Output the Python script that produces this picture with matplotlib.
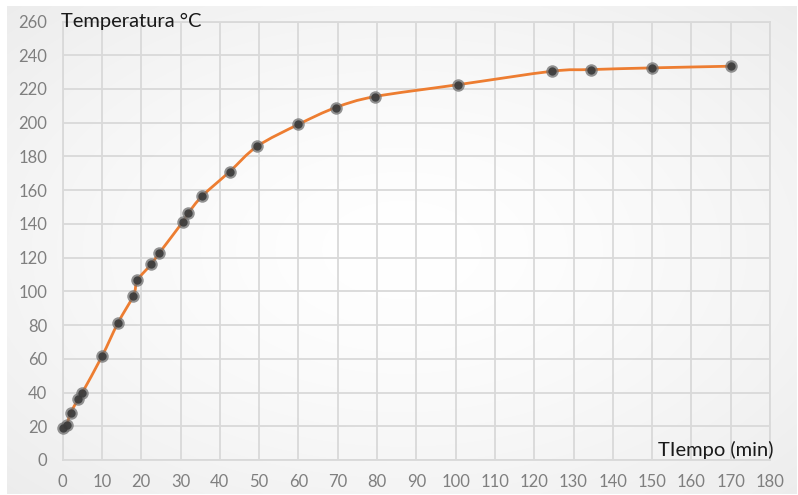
import numpy as np
import matplotlib
matplotlib.use("Agg")
import matplotlib.pyplot as plt
from matplotlib.path import Path
from matplotlib.patches import PathPatch

# Heating curve: time (min) vs temperature (°C)
tiempo = [0, 1, 2, 4, 5, 10, 14, 18, 19, 22.5, 24.5, 30.5, 32, 35.5,
          42.5, 49.5, 60, 69.5, 79.5, 100.5, 124.5, 134.5, 150, 170]
temperatura = [19, 20.5, 28, 36, 40, 61.5, 81, 97.5, 106.5, 116, 122.5,
               141, 146.5, 156.5, 171, 186, 199, 209, 215.5, 222.5,
               230.5, 231.5, 232.5, 233.5]

x_ticks = list(range(0, 181, 10))
y_ticks = list(range(0, 261, 20))
x_label = "TIempo (min)"
y_label = "Temperatura °C"

FONT = ["Lato", "DejaVu Sans"]
plt.rcParams["font.family"] = FONT

W, H = 798, 495
fig = plt.figure(figsize=(W / 100, H / 100), dpi=100)
fig.patch.set_facecolor("white")

# soft radial background of the chart area
bg = fig.add_axes([7 / W, 1 / H, 790 / W, 488 / H], zorder=-5)
gx, gy = np.meshgrid(np.linspace(-1, 1, 400), np.linspace(-1, 1, 250))
r = np.clip(np.sqrt((gx * 0.85) ** 2 + (gy * 0.85) ** 2), 0, 1.3)
shade = 1.0 - 0.055 * r ** 1.5
img = np.dstack([shade, shade, shade])
bg.imshow(img, aspect="auto", extent=[0, 1, 0, 1], interpolation="bilinear")
bg.set_axis_off()

ax = fig.add_axes([62.7 / W, (H - 460) / H, (770 - 62.7) / W, (460 - 21.5) / H])
ax.set_facecolor("none")
ax.set_xlim(0, 180)
ax.set_ylim(0, 260)
ax.set_xticks(x_ticks)
ax.set_yticks(y_ticks)
ax.grid(True, color="#d9d9d9", lw=1.3, zorder=0)
for s in ax.spines.values():
    s.set_visible(False)
ax.tick_params(length=0, labelsize=12, colors="#808080", pad=12)
ax.tick_params(axis="y", pad=11)
ax.tick_params(axis="x", pad=10)
for lab in ax.get_xticklabels() + ax.get_yticklabels():
    lab.set_color("#7f7f7f")

# edge gridlines (limits) drawn explicitly
for xv in (0, 180):
    ax.axvline(xv, color="#d9d9d9", lw=1.3, zorder=0, clip_on=False)
for yv in (0, 260):
    ax.axhline(yv, color="#d9d9d9", lw=1.3, zorder=0, clip_on=False)

# smoothed line through the points (Catmull-Rom as cubic Bezier segments)
P = np.column_stack([tiempo, temperatura]).astype(float)
n = len(P)
verts = [P[0]]
codes = [Path.MOVETO]
for i in range(n - 1):
    p0 = P[i - 1] if i > 0 else P[i]
    p1 = P[i]
    p2 = P[i + 1]
    p3 = P[i + 2] if i + 2 < n else P[i + 1]
    c1 = p1 + (p2 - p0) / 6.0
    c2 = p2 - (p3 - p1) / 6.0
    verts += [c1, c2, p2]
    codes += [Path.CURVE4] * 3
ax.add_patch(PathPatch(Path(verts, codes), facecolor="none",
                       edgecolor="#ED7D31", lw=2.0, zorder=3,
                       capstyle="round", joinstyle="round", clip_on=False))

# sphere-like markers
ax.plot(tiempo, temperatura, ls="none", marker="o", ms=9,
        mfc="#707070", mec="none", zorder=4, clip_on=False, alpha=0.75)
ax.plot(tiempo, temperatura, ls="none", marker="o", ms=6,
        mfc="#3a3a3a", mec="none", zorder=5, clip_on=False, alpha=0.9)

ax.text(-0.5, 260, y_label, ha="left", va="center", fontsize=14.5,
        color="#1a1a1a", zorder=6)
ax.text(180.8, 6, x_label, ha="right", va="center", fontsize=14.5,
        color="#1a1a1a", zorder=6)

fig.savefig("out.png", dpi=100)
